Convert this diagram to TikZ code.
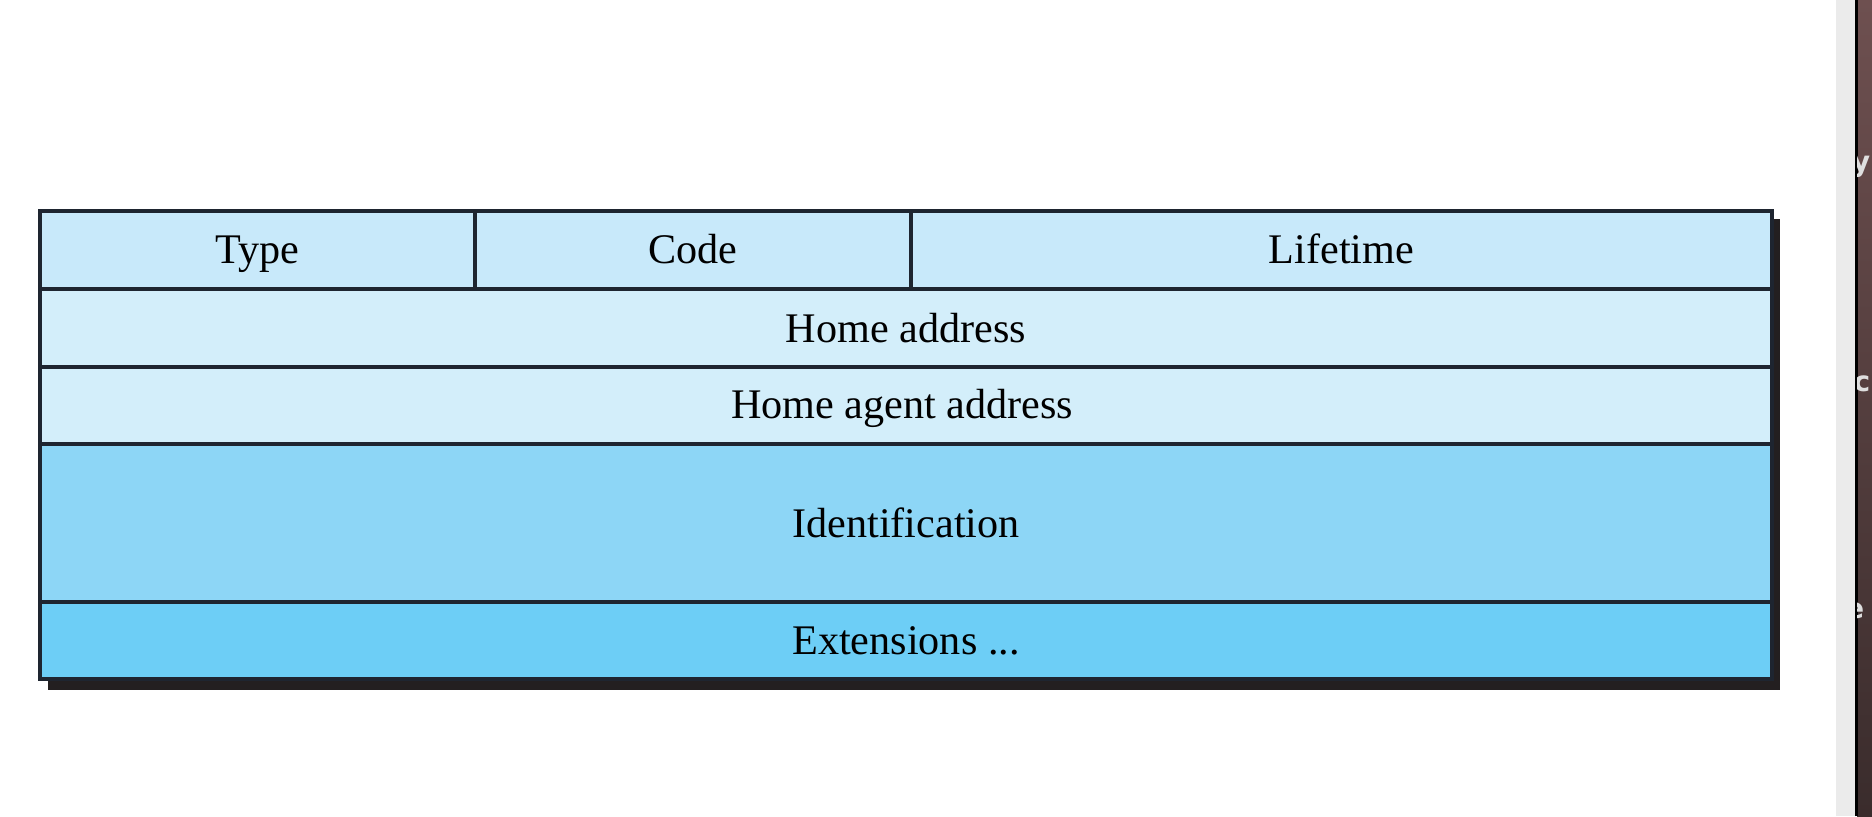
\documentclass[tikz,border=0pt]{standalone}
\usepackage{fontspec}
\setmainfont{Liberation Serif}
\setsansfont{DejaVu Sans}
\usepackage{xcolor}
\definecolor{headrow}{HTML}{C8E9FA}
\definecolor{addrrow}{HTML}{D3EEFA}
\definecolor{identrow}{HTML}{8DD6F6}
\definecolor{extrow}{HTML}{6DCEF6}
\definecolor{shadow}{HTML}{231F20}
\definecolor{rule}{HTML}{1E2530}
\definecolor{winframe}{HTML}{EBEBEB}
\definecolor{woodtop}{HTML}{6E5050}
\definecolor{woodbot}{HTML}{3A2C2C}
\def\fieldrow#1#2#3{
	\fill[#3] (0.40,#1) rectangle (17.72,#2);}
\def\rowline#1{
	\draw[rule] (0.40,#1) -- (17.72,#1);}

\begin{document}
\begin{tikzpicture}[font=\rmfamily\fontsize{12}{14}\selectfont,line width=1pt]
	\useasboundingbox (0,0) rectangle (18.72,8.16);
	%阴影
	\fill[shadow] (0.48,1.26) rectangle (17.80,5.97);
	\fieldrow{6.05}{5.27}{headrow}
	\fieldrow{5.27}{3.72}{addrrow}
	\fieldrow{3.72}{2.14}{identrow}
	\fieldrow{2.14}{1.37}{extrow}
	\rowline{5.27}
	\rowline{4.49}
	\rowline{3.72}
	\rowline{2.14}
	\draw[rule] (4.75,6.05) -- (4.75,5.27);
	\draw[rule] (9.11,6.05) -- (9.11,5.27);
	\draw[rule,line width=1.2pt] (0.40,1.37) rectangle (17.72,6.05);
	%字段名称,按基线放置
	\node[anchor=base] (type) at (2.575,5.53) {Type};
	\node[anchor=base] (code) at (6.93,5.53) {Code};
	\node[anchor=base] (life) at (13.415,5.53) {Lifetime};
	\node[anchor=base] (home) at (9.06,4.74) {Home address};
	\node[anchor=base] (agent) at (9.02,3.98) {Home agent address};
	\node[anchor=base] (ident) at (9.06,2.79) {Identification};
	\node[anchor=base] (ext) at (9.06,1.62) {Extensions ...};
	%右侧窗口边缘
	\fill[winframe] (18.36,0) rectangle (18.56,8.16);
	\shade[top color=woodtop,bottom color=woodbot] (18.57,0) rectangle (18.72,8.16);
	\draw[black,line width=0.6pt] (18.565,0) -- (18.565,8.16);
	\begin{scope}
		\clip (18.57,0) rectangle (18.72,8.16);
		\node[anchor=base east,inner sep=0pt,text=gray!25,font=\sffamily\bfseries\fontsize{8}{8}\selectfont] (ly) at (18.72,6.45) {y};
		\node[anchor=base east,inner sep=0pt,text=gray!25,font=\sffamily\bfseries\fontsize{8}{8}\selectfont] (lc) at (18.72,4.25) {c};
		\node[anchor=base east,inner sep=0pt,text=gray!25,font=\sffamily\bfseries\fontsize{8}{8}\selectfont] (le) at (18.66,1.98) {e};
	\end{scope}
\end{tikzpicture}
\end{document}
